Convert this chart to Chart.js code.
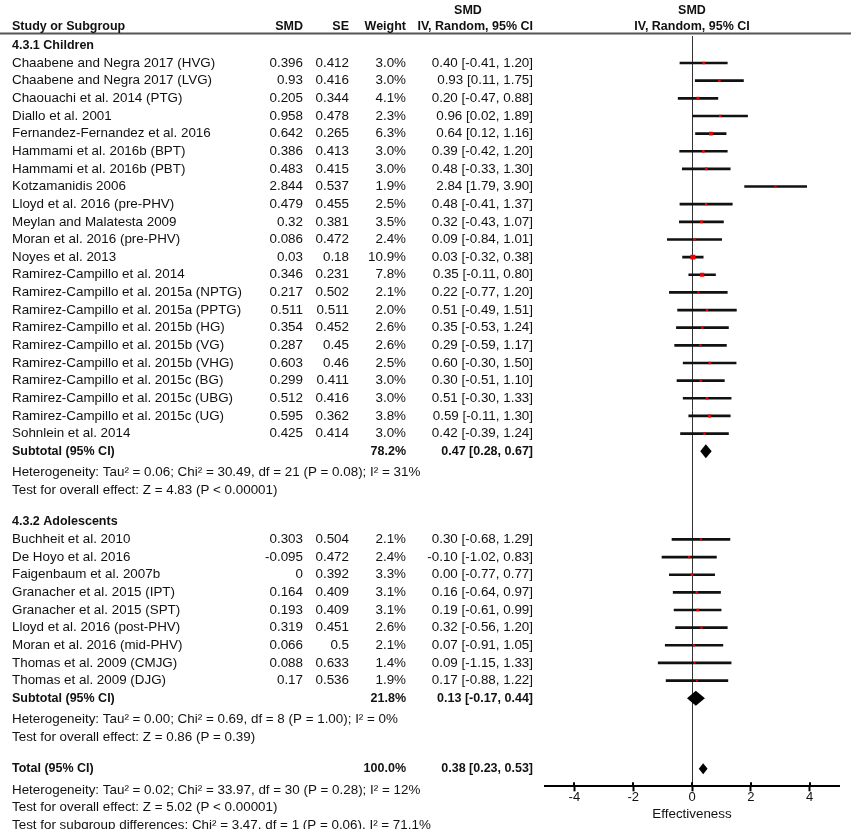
<!DOCTYPE html>
<html>
<head>
<meta charset="utf-8">
<script src="https://cdn.jsdelivr.net/npm/chart.js@4.4.1/dist/chart.umd.min.js"></script>
<style>
  html, body { margin: 0; padding: 0; background: #fff; }
  #wrap { width: 851px; height: 829px; position: relative; }
</style>
</head>
<body>
<div id="wrap"><canvas id="c"></canvas></div>
<script>
// ---------------- DATA ----------------
const childNames = [
  "Chaabene and Negra 2017 (HVG)", "Chaabene and Negra 2017 (LVG)", "Chaouachi et al. 2014 (PTG)",
  "Diallo et al. 2001", "Fernandez-Fernandez et al. 2016", "Hammami et al. 2016b (BPT)",
  "Hammami et al. 2016b (PBT)", "Kotzamanidis 2006", "Lloyd et al. 2016 (pre-PHV)",
  "Meylan and Malatesta 2009", "Moran et al. 2016 (pre-PHV)", "Noyes et al. 2013",
  "Ramirez-Campillo et al. 2014", "Ramirez-Campillo et al. 2015a (NPTG)", "Ramirez-Campillo et al. 2015a (PPTG)",
  "Ramirez-Campillo et al. 2015b (HG)", "Ramirez-Campillo et al. 2015b (VG)", "Ramirez-Campillo et al. 2015b (VHG)",
  "Ramirez-Campillo et al. 2015c (BG)", "Ramirez-Campillo et al. 2015c (UBG)", "Ramirez-Campillo et al. 2015c (UG)",
  "Sohnlein et al. 2014"
];
const childSMD = [0.396, 0.93, 0.205, 0.958, 0.642, 0.386, 0.483, 2.844, 0.479, 0.32, 0.086, 0.03, 0.346, 0.217, 0.511, 0.354, 0.287, 0.603, 0.299, 0.512, 0.595, 0.425];
const childSE = [0.412, 0.416, 0.344, 0.478, 0.265, 0.413, 0.415, 0.537, 0.455, 0.381, 0.472, 0.18, 0.231, 0.502, 0.511, 0.452, 0.45, 0.46, 0.411, 0.416, 0.362, 0.414];
const childWeight = [3.0, 3.0, 4.1, 2.3, 6.3, 3.0, 3.0, 1.9, 2.5, 3.5, 2.4, 10.9, 7.8, 2.1, 2.0, 2.6, 2.6, 2.5, 3.0, 3.0, 3.8, 3.0];
const childLo = [-0.41, 0.11, -0.47, 0.02, 0.12, -0.42, -0.33, 1.79, -0.41, -0.43, -0.84, -0.32, -0.11, -0.77, -0.49, -0.53, -0.59, -0.30, -0.51, -0.30, -0.11, -0.39];
const childHi = [1.20, 1.75, 0.88, 1.89, 1.16, 1.20, 1.30, 3.90, 1.37, 1.07, 1.01, 0.38, 0.80, 1.20, 1.51, 1.24, 1.17, 1.50, 1.10, 1.33, 1.30, 1.24];

const adolNames = [
  "Buchheit et al. 2010", "De Hoyo et al. 2016", "Faigenbaum et al. 2007b",
  "Granacher et al. 2015 (IPT)", "Granacher et al. 2015 (SPT)", "Lloyd et al. 2016 (post-PHV)",
  "Moran et al. 2016 (mid-PHV)", "Thomas et al. 2009 (CMJG)", "Thomas et al. 2009 (DJG)"
];
const adolSMD = [0.303, -0.095, 0, 0.164, 0.193, 0.319, 0.066, 0.088, 0.17];
const adolSE = [0.504, 0.472, 0.392, 0.409, 0.409, 0.451, 0.5, 0.633, 0.536];
const adolWeight = [2.1, 2.4, 3.3, 3.1, 3.1, 2.6, 2.1, 1.4, 1.9];
const adolLo = [-0.68, -1.02, -0.77, -0.64, -0.61, -0.56, -0.91, -1.15, -0.88];
const adolHi = [1.29, 0.83, 0.77, 0.97, 0.99, 1.20, 1.05, 1.33, 1.22];

const groupTitles = ["4.3.1 Children", "4.3.2 Adolescents"];
const subtotalLabel = "Subtotal (95% CI)";
const subtotalWeight = [78.2, 21.8];
const subtotalEst = [0.47, 0.13];
const subtotalLo = [0.28, -0.17];
const subtotalHi = [0.67, 0.44];
const groupNotes = [
  ["Heterogeneity: Tau\u00B2 = 0.06; Chi\u00B2 = 30.49, df = 21 (P = 0.08); I\u00B2 = 31%",
   "Test for overall effect: Z = 4.83 (P < 0.00001)"],
  ["Heterogeneity: Tau\u00B2 = 0.00; Chi\u00B2 = 0.69, df = 8 (P = 1.00); I\u00B2 = 0%",
   "Test for overall effect: Z = 0.86 (P = 0.39)"]
];
const totalLabel = "Total (95% CI)";
const totalWeight = 100.0;
const totalEst = 0.38;
const totalLo = 0.23;
const totalHi = 0.53;
const totalNotes = [
  "Heterogeneity: Tau\u00B2 = 0.02; Chi\u00B2 = 33.97, df = 30 (P = 0.28); I\u00B2 = 12%",
  "Test for overall effect: Z = 5.02 (P < 0.00001)",
  "Test for subgroup differences: Chi\u00B2 = 3.47, df = 1 (P = 0.06), I\u00B2 = 71.1%"
];
const columnHeaders = ["Study or Subgroup", "SMD", "SE", "Weight", "SMD", "IV, Random, 95% CI"];
const xTicks = [-4, -2, 0, 2, 4];
const xTitle = "Effectiveness";

// ---------------- ROW LAYOUT (computed) ----------------
const groups = [
  { names: childNames, smd: childSMD, se: childSE, w: childWeight, lo: childLo, hi: childHi },
  { names: adolNames, smd: adolSMD, se: adolSE, w: adolWeight, lo: adolLo, hi: adolHi }
];
const studyRows = [];
const textRows = [];
const diamonds = [];
let r = -1;
groups.forEach((g, gi) => {
  textRows.push({ type: 'group', text: groupTitles[gi], row: r });
  r += 1;
  g.names.forEach((n, i) => {
    const s = { name: n, smd: g.smd[i], se: g.se[i], w: g.w[i], lo: g.lo[i], hi: g.hi[i], row: r };
    studyRows.push(s);
    textRows.push(Object.assign({ type: 'study' }, s));
    r += 1;
  });
  textRows.push({ type: 'sub', text: subtotalLabel, w: subtotalWeight[gi], est: subtotalEst[gi], lo: subtotalLo[gi], hi: subtotalHi[gi], row: r });
  diamonds.push({ est: subtotalEst[gi], lo: subtotalLo[gi], hi: subtotalHi[gi], row: r, h: gi === 0 ? 7 : 7.5 });
  groupNotes[gi].forEach((t, k) => textRows.push({ type: 'note', text: t, row: r + 1.2 + k }));
  r += 4;
});
textRows.push({ type: 'sub', text: totalLabel, w: totalWeight, est: totalEst, lo: totalLo, hi: totalHi, row: r });
diamonds.push({ est: totalEst, lo: totalLo, hi: totalHi, row: r, h: 5.5 });
totalNotes.forEach((t, k) => textRows.push({ type: 'note', text: t, row: r + 1.2 + k }));

// ---------------- STYLE ----------------
const FONT = "'Liberation Sans', Arial, sans-serif";
const REG = "13.4px " + FONT;
const BOLD = "bold 12.5px " + FONT;
const COL = { name: 12, smd: 303, se: 349, weight: 406, ci: 533, smdTop: 468 };
const ROW0_Y = 63, ROW_H = 17.63, AREA_TOP = 36, AREA_BOTTOM = 785.7;
const yMin = -(ROW0_Y - AREA_TOP) / ROW_H;
const yMax = (AREA_BOTTOM - ROW0_Y) / ROW_H;

function ciText(est, lo, hi) {
  return est.toFixed(2) + " [" + lo.toFixed(2) + ", " + hi.toFixed(2) + "]";
}

const textPlugin = {
  id: 'forestText',
  afterDraw(chart) {
    const ctx = chart.ctx;
    const ys = chart.scales.y, xs = chart.scales.x;
    ctx.save();
    ctx.strokeStyle = '#555';
    ctx.lineWidth = 2;
    ctx.beginPath(); ctx.moveTo(0, 33.5); ctx.lineTo(851, 33.5); ctx.stroke();

    ctx.fillStyle = '#111';
    ctx.textBaseline = 'middle';
    ctx.font = BOLD;
    ctx.textAlign = 'left';  ctx.fillText(columnHeaders[0], COL.name, 27);
    ctx.textAlign = 'right'; ctx.fillText(columnHeaders[1], COL.smd, 27);
    ctx.fillText(columnHeaders[2], COL.se, 27);
    ctx.fillText(columnHeaders[3], COL.weight, 27);
    ctx.fillText(columnHeaders[5], COL.ci, 27);
    ctx.textAlign = 'center'; ctx.fillText(columnHeaders[4], COL.smdTop, 11);
    const x0 = xs.getPixelForValue(0);
    ctx.fillText(columnHeaders[4], x0, 11);
    ctx.fillText(columnHeaders[5], x0, 27);

    textRows.forEach(t => {
      const y = ys.getPixelForValue(t.row);
      if (t.type === 'group') {
        ctx.font = BOLD; ctx.textAlign = 'left';
        ctx.fillText(t.text, COL.name, y);
      } else if (t.type === 'study') {
        ctx.font = REG; ctx.textAlign = 'left';
        ctx.fillText(t.name, COL.name, y);
        ctx.textAlign = 'right';
        ctx.fillText(String(t.smd), COL.smd, y);
        ctx.fillText(String(t.se), COL.se, y);
        ctx.fillText(t.w.toFixed(1) + "%", COL.weight, y);
        ctx.fillText(ciText(t.smd, t.lo, t.hi), COL.ci, y);
      } else if (t.type === 'sub') {
        ctx.font = BOLD; ctx.textAlign = 'left';
        ctx.fillText(t.text, COL.name, y);
        ctx.textAlign = 'right';
        ctx.fillText(t.w.toFixed(1) + "%", COL.weight, y);
        ctx.fillText(ciText(t.est, t.lo, t.hi), COL.ci, y);
      } else if (t.type === 'note') {
        ctx.font = REG; ctx.textAlign = 'left';
        ctx.fillText(t.text, COL.name, y);
      }
    });

    ctx.strokeStyle = '#000'; ctx.lineWidth = 2;
    const ay = chart.chartArea.bottom;
    xs.ticks.forEach(tk => {
      const px = Math.round(xs.getPixelForValue(tk.value));
      ctx.beginPath(); ctx.moveTo(px, ay - 4); ctx.lineTo(px, ay); ctx.stroke();
    });
    ctx.restore();
  },
  afterDatasetsDraw(chart) {
    const ctx = chart.ctx;
    const ys = chart.scales.y, xs = chart.scales.x;
    ctx.save();
    ctx.fillStyle = '#000';
    diamonds.forEach(d => {
      const y = ys.getPixelForValue(d.row);
      ctx.beginPath();
      ctx.moveTo(xs.getPixelForValue(d.lo), y);
      ctx.lineTo(xs.getPixelForValue(d.est), y - d.h);
      ctx.lineTo(xs.getPixelForValue(d.hi), y);
      ctx.lineTo(xs.getPixelForValue(d.est), y + d.h);
      ctx.closePath();
      ctx.fill();
    });
    ctx.restore();
  }
};

new Chart(document.getElementById('c'), {
  type: 'bar',
  data: {
    datasets: [
      {
        type: 'scatter',
        order: 0,
        data: studyRows.map(s => ({ x: s.smd, y: s.row })),
        pointStyle: 'rect',
        pointRadius: studyRows.map(s => 1.5 * Math.sqrt(s.w) / Math.SQRT2),
        backgroundColor: '#ee0000',
        borderWidth: 0
      },
      {
        type: 'bar',
        order: 1,
        indexAxis: 'y',
        data: studyRows.map(s => ({ x: [s.lo, s.hi], y: s.row })),
        backgroundColor: '#111',
        barThickness: 2,
        borderWidth: 0
      }
    ]
  },
  options: {
    responsive: true,
    maintainAspectRatio: false,
    animation: false,
    devicePixelRatio: 1,
    layout: { padding: { left: 545, right: 12, top: AREA_TOP, bottom: 6 } },
    plugins: { legend: { display: false }, tooltip: { enabled: false } },
    scales: {
      x: {
        type: 'linear',
        offset: false,
        min: -5, max: 5,
        afterBuildTicks: (sc) => { sc.ticks = xTicks.map(v => ({ value: v })); },
        grid: {
          offset: false,
          color: (c) => (c.tick && c.tick.value === 0) ? '#333' : 'rgba(0,0,0,0)',
          lineWidth: 1,
          drawTicks: true,
          tickLength: 5,
          tickColor: '#000',
          tickWidth: 2
        },
        border: { display: true, color: '#000', width: 2 },
        ticks: { color: '#111', padding: -2, font: { family: FONT, size: 13 }, callback: (v) => String(v) },
        title: { display: true, text: xTitle, color: '#111', font: { family: FONT, size: 13.4 }, padding: { top: 3, bottom: 1 } }
      },
      y: {
        type: 'linear',
        offset: false,
        grid: { offset: false },
        display: false,
        reverse: true,
        min: yMin, max: yMax
      }
    }
  },
  plugins: [textPlugin]
});
</script>
</body>
</html>
